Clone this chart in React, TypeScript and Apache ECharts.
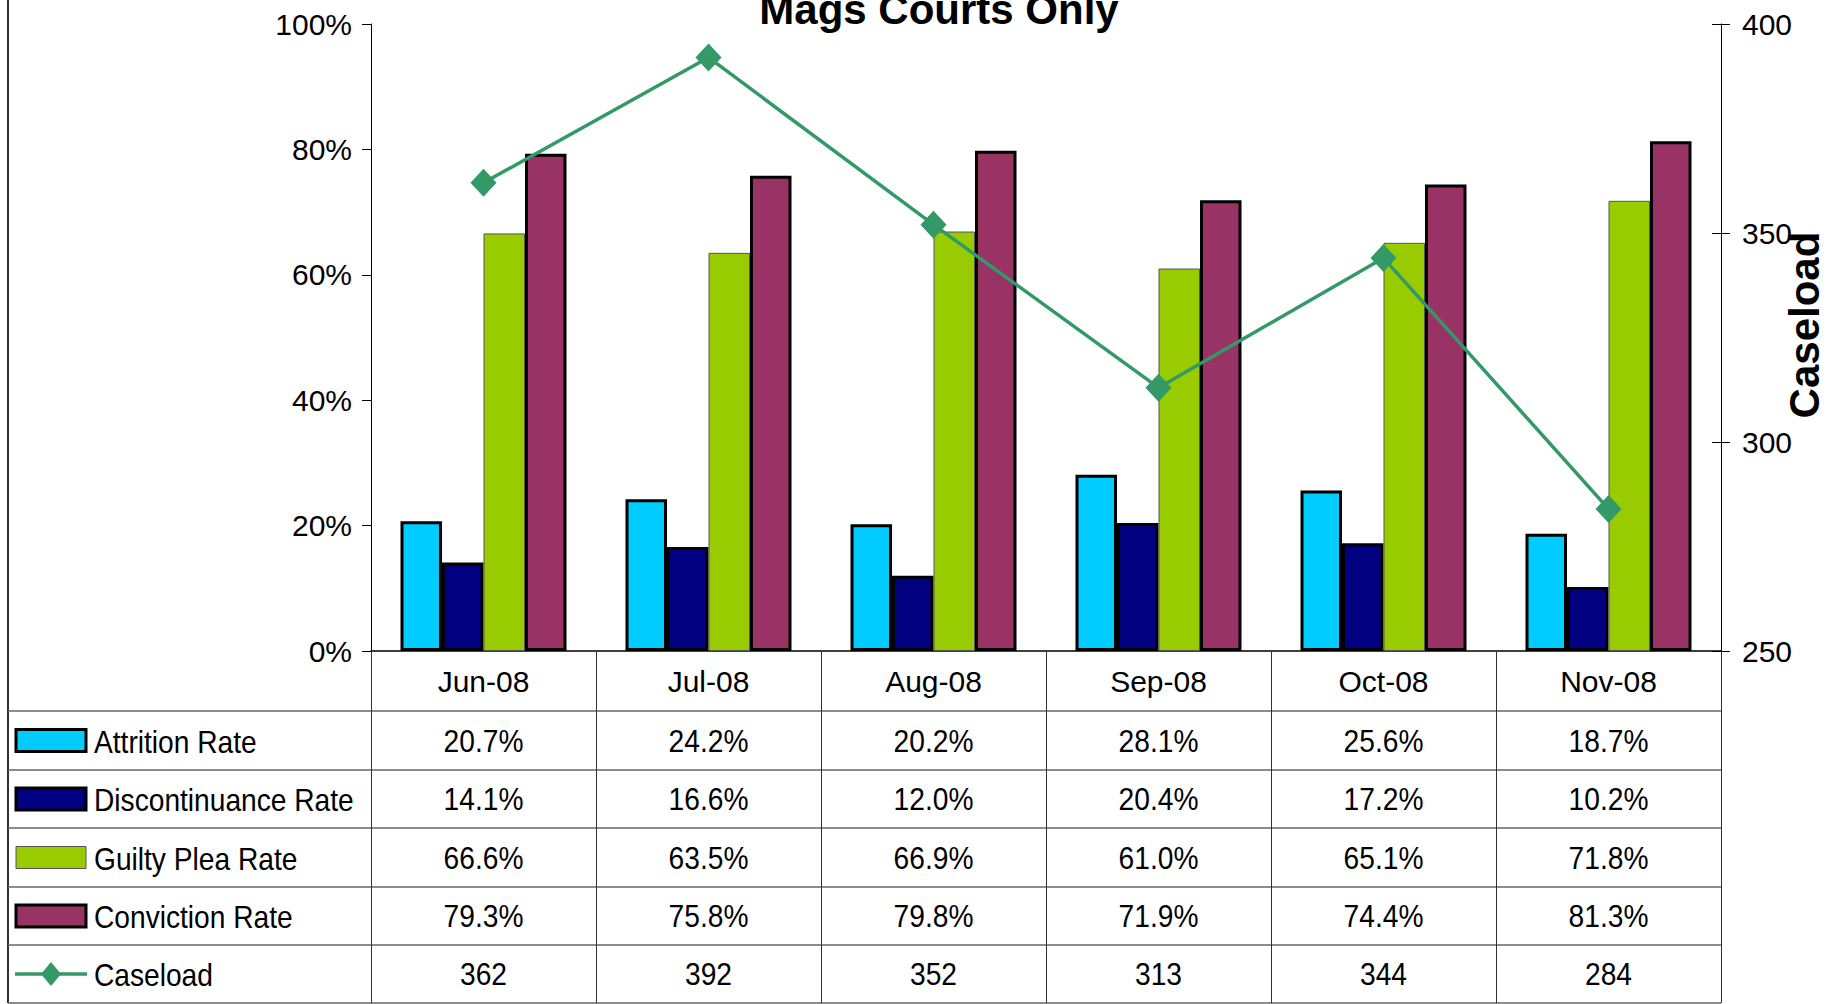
import React, { useEffect, useRef } from "react";
import * as echarts from "echarts";

const categories = ["Jun-08", "Jul-08", "Aug-08", "Sep-08", "Oct-08", "Nov-08"];
const attritionRate = [20.7, 24.2, 20.2, 28.1, 25.6, 18.7];
const discontinuanceRate = [14.1, 16.6, 12.0, 20.4, 17.2, 10.2];
const guiltyPleaRate = [66.6, 63.5, 66.9, 61.0, 65.1, 71.8];
const convictionRate = [79.3, 75.8, 79.8, 71.9, 74.4, 81.3];
const caseload = [362, 392, 352, 313, 344, 284];

const seriesNames = ["Attrition Rate", "Discontinuance Rate", "Guilty Plea Rate", "Conviction Rate", "Caseload"];
const seriesColors = ["#00CCFF", "#000080", "#99CC00", "#993366", "#339966"];

const SANS = "'Liberation Sans', Arial, sans-serif";
const TEXT_SCALE = 0.88;

const GRID_LEFT = 371;
const GRID_RIGHT_X = 1721;
const GRID_TOP = 24;
const GRID_BOTTOM_Y = 651;
const ROW_LINES = [711, 770, 828, 887, 945, 1003];

function buildGraphic(xs: number[]) {
  const els: any[] = [];
  els.push({
    type: "line",
    shape: { x1: 8, y1: 0, x2: 8, y2: 1003 },
    style: { stroke: "#333", lineWidth: 2 },
    silent: true,
  });
  ROW_LINES.forEach((y) => {
    els.push({
      type: "line",
      shape: { x1: 8, y1: y, x2: GRID_RIGHT_X, y2: y },
      style: { stroke: "#666", lineWidth: 1.5 },
      silent: true,
    });
  });
  const rows = [
    attritionRate.map((v) => v.toFixed(1) + "%"),
    discontinuanceRate.map((v) => v.toFixed(1) + "%"),
    guiltyPleaRate.map((v) => v.toFixed(1) + "%"),
    convictionRate.map((v) => v.toFixed(1) + "%"),
    caseload.map((v) => String(v)),
  ];
  rows.forEach((vals, r) => {
    const cy = (ROW_LINES[r] + ROW_LINES[r + 1]) / 2;
    if (r < 4) {
      const thin = r === 2;
      els.push({
        type: "rect",
        shape: { x: 16, y: cy - 11, width: 70, height: 22 },
        style: {
          fill: seriesColors[r],
          stroke: thin ? "#555" : "#000",
          lineWidth: thin ? 1 : 3,
        },
        silent: true,
      });
    } else {
      els.push({
        type: "line",
        shape: { x1: 15, y1: cy, x2: 87, y2: cy },
        style: { stroke: seriesColors[4], lineWidth: 3.5 },
        silent: true,
      });
      els.push({
        type: "polygon",
        shape: {
          points: [
            [51, cy - 12],
            [61, cy],
            [51, cy + 12],
            [41, cy],
          ],
        },
        style: { fill: seriesColors[4] },
        silent: true,
      });
    }
    els.push({
      type: "text",
      x: 94,
      y: cy + 1,
      scaleX: TEXT_SCALE,
      style: {
        text: seriesNames[r],
        font: "32px " + SANS,
        fill: "#000",
        textAlign: "left",
        textVerticalAlign: "middle",
      },
      silent: true,
    });
    vals.forEach((t, i) => {
      els.push({
        type: "text",
        x: xs[i],
        y: cy,
        scaleX: TEXT_SCALE,
        style: {
          text: t,
          font: "32px " + SANS,
          fill: "#000",
          textAlign: "center",
          textVerticalAlign: "middle",
        },
        silent: true,
      });
    });
  });
  return els;
}

export default function App() {
  const ref = useRef<HTMLDivElement>(null);
  useEffect(() => {
    if (!ref.current) return;
    const chart = echarts.init(ref.current, null, { renderer: "svg" });
    const barBase = (idx: number, data: number[], thin = false) => ({
      name: seriesNames[idx],
      type: "bar",
      data,
      barWidth: 41.5,
      barGap: "0%",
      itemStyle: {
        color: seriesColors[idx],
        borderColor: thin ? "#555" : "#000",
        borderWidth: thin ? 1 : 3,
      },
      z: 2,
    });
    const option: any = {
      animation: false,
      backgroundColor: "#fff",
      title: {
        text: "Mags Courts Only",
        left: 939,
        textAlign: "center",
        top: -12,
        padding: 0,
        textStyle: { fontFamily: SANS, fontWeight: "bold", fontSize: 42, color: "#000" },
      },
      legend: { show: false },
      grid: {
        left: GRID_LEFT,
        right: 1840 - GRID_RIGHT_X,
        top: GRID_TOP,
        bottom: 1004 - GRID_BOTTOM_Y,
        containLabel: false,
        outerBoundsMode: "none",
      },
      xAxis: {
        type: "category",
        data: categories,
        boundaryGap: true,
        axisLine: { show: true, lineStyle: { color: "#000", width: 1.5 } },
        axisTick: { show: true, interval: 0, length: 352, lineStyle: { color: "#333", width: 1 } },
        axisLabel: {
          interval: 0,
          margin: 15,
          fontSize: 30,
          lineHeight: 30,
          fontFamily: SANS,
          color: "#000",
        },
        splitLine: { show: false },
      },
      yAxis: [
        {
          type: "value",
          position: "left",
          min: 0,
          max: 100,
          interval: 20,
          axisLine: { show: true, lineStyle: { color: "#000", width: 1 } },
          axisTick: { show: true, length: 9, lineStyle: { color: "#000" } },
          axisLabel: { formatter: "{value}%", fontSize: 30, fontFamily: SANS, color: "#000", margin: 19 },
          splitLine: { show: false },
        },
        {
          type: "value",
          position: "right",
          min: 250,
          max: 400,
          interval: 50,
          name: "Caseload",
          nameLocation: "middle",
          nameRotate: 90,
          nameGap: 62,
          nameMoveOverlap: false,
          nameTextStyle: {
            fontFamily: SANS,
            fontWeight: "bold",
            fontSize: 42,
            color: "#000",
            padding: [0, 0, 0, 25],
          },
          axisLine: { show: true, lineStyle: { color: "#000", width: 1 } },
          axisTick: { show: true, length: 9, lineStyle: { color: "#000" } },
          axisLabel: { fontSize: 30, fontFamily: SANS, color: "#000", margin: 21 },
          splitLine: { show: false },
        },
        {
          type: "value",
          position: "right",
          min: 250,
          max: 400,
          interval: 50,
          axisLine: { show: false },
          axisTick: { show: true, inside: true, length: 9, lineStyle: { color: "#000" } },
          axisLabel: { show: false },
          splitLine: { show: false },
        },
      ],
      series: [
        barBase(0, attritionRate),
        barBase(1, discontinuanceRate),
        barBase(2, guiltyPleaRate, true),
        barBase(3, convictionRate),
        {
          name: seriesNames[4],
          type: "line",
          yAxisIndex: 1,
          data: caseload,
          symbol: "diamond",
          symbolSize: [26, 28],
          lineStyle: { color: seriesColors[4], width: 3.5 },
          itemStyle: { color: seriesColors[4] },
          z: 5,
        },
      ],
    };
    chart.setOption(option);
    const xs = categories.map((c) => chart.convertToPixel({ xAxisIndex: 0 }, c) as number);
    chart.setOption({ graphic: buildGraphic(xs) });
    return () => chart.dispose();
  }, []);
  return (
    <div
      ref={ref}
      style={{ position: "fixed", left: 0, top: 0, width: 1840, height: 1004 }}
    />
  );
}
